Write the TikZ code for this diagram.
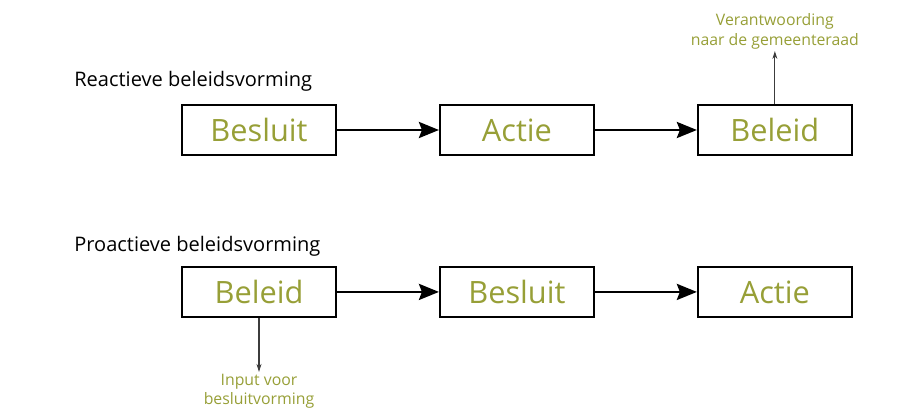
\documentclass[tikz,border=0pt]{standalone}
\usepackage{fontspec}
\setmainfont{Open Sans}
\usetikzlibrary{arrows.meta,positioning}
\definecolor{beleidGreen}{RGB}{151,159,55}
\definecolor{noteGray}{RGB}{60,60,60}

\begin{document}
\begin{tikzpicture}[
  node distance=2.2cm and 2.04cm,
  stapbox/.style={draw=black, line width=1.1pt, minimum width=3.08cm, minimum height=1.0cm, inner sep=0pt, text=beleidGreen, font=\fontsize{17.5}{20}\selectfont},
  kop/.style={anchor=base west, inner sep=0pt, font=\fontsize{11.4}{14}\selectfont},
  notitie/.style={align=center, inner sep=1pt, text=beleidGreen, font=\fontsize{9}{11}\selectfont},
  flow/.style={-{Stealth[length=0.4cm, width=0.32cm, inset=0.06cm]}, line width=1.5pt},
  pijl/.style={-{Stealth[length=0.16cm, width=0.1cm]}, line width=0.6pt, color=noteGray}
]
\useasboundingbox (0,0) rectangle (18.2,-8.32);

% reactief
\node[kop] (reactief) at (1.48,-1.74) {Reactieve beleidsvorming};
\node[stapbox] (rBesluit) at (5.18,-2.6) {Besluit};
\node[stapbox, right=of rBesluit] (rActie) {Actie};
\node[stapbox, right=of rActie] (rBeleid) {Beleid};
\node[notitie, above=1.06cm of rBeleid] (verantw) {Verantwoording\\naar de gemeenteraad};

% proactief
\node[kop] (proactief) at (1.48,-5.04) {Proactieve beleidsvorming};
\node[stapbox, below=of rBesluit] (pBeleid) {Beleid};
\node[stapbox, right=of pBeleid] (pBesluit) {Besluit};
\node[stapbox, right=of pBesluit] (pActie) {Actie};
\node[notitie, below=1.08cm of pBeleid] (input) {Input voor\\besluitvorming};

\draw[flow] (rBesluit) -- (rActie);
\draw[flow] (rActie) -- (rBeleid);
\draw[pijl] (rBeleid) -- (verantw);
\draw[flow] (pBeleid) -- (pBesluit);
\draw[flow] (pBesluit) -- (pActie);
\draw[pijl] (pBeleid) -- (input);
\end{tikzpicture}
\end{document}
